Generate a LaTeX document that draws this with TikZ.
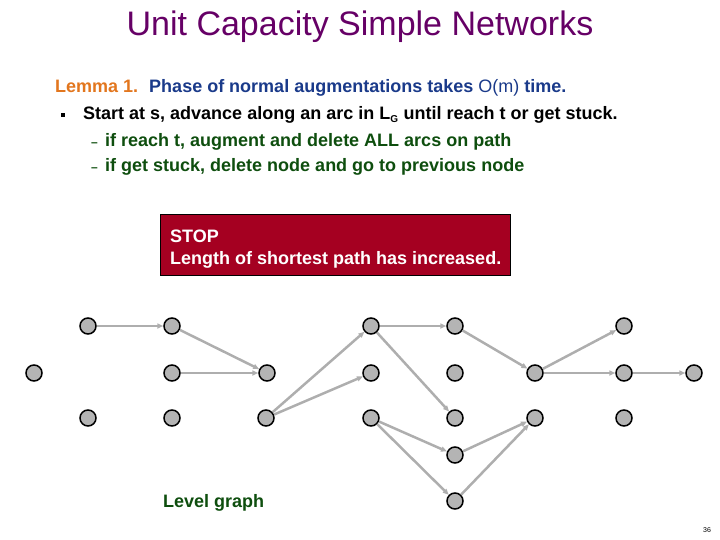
\documentclass[tikz,border=0pt]{standalone}
\usepackage{fontspec}
\setmainfont{Liberation Sans}
\usepackage{xcolor}
\usetikzlibrary{arrows.meta,positioning}

\definecolor{titlepurple}{HTML}{660066}
\definecolor{lemmaorange}{HTML}{E2761E}
\definecolor{lemmablue}{HTML}{1A3A8A}
\definecolor{subgreen}{HTML}{0E4E0E}
\definecolor{stopred}{HTML}{A50021}
\definecolor{vtxgray}{HTML}{B4B4B4}
\definecolor{arcgray}{HTML}{AEAEAE}

\begin{document}
\begin{tikzpicture}[
      x=1pt, y=-1pt,
      txt/.style={anchor=base west, inner sep=0pt, font=\fontsize{18}{21}\selectfont\bfseries},
      stopbox/.style={rectangle, draw=black, line width=1pt, fill=stopred,
                      text=white, align=left, inner sep=0pt,
                      minimum width=350pt, minimum height=60pt},
      vtx/.style={circle, draw=black, line width=1.5pt, fill=vtxgray,
                  minimum size=16pt, inner sep=0pt},
      arc/.style={-{Triangle[length=6pt,width=5pt]}, draw=arcgray, line width=2.5pt}
    ]
    \useasboundingbox (0,0) rectangle (720,540);
    % heading and text
    \node[font=\fontsize{34}{40}\selectfont, text=titlepurple] (title) at (360,27) {Unit Capacity Simple Networks};
    \node[txt] (lemma) at (55,93) {\textcolor{lemmaorange}{Lemma 1.}\hspace{11pt}\textcolor{lemmablue}{Phase of normal augmentations takes \textmd{O(m)} time.}};
    \node[anchor=center, inner sep=0pt] (dot) at (63,115) {\rule{4pt}{4pt}};
    \node[txt] (step1) at (83,120) {Start at s, advance along an arc in L\textsubscript{\fontsize{10}{10}\selectfont G} until reach t or get stuck.};
    \node[txt, text=subgreen] (sub1) at (91,147) {\makebox[14pt][l]{\fontsize{12}{12}\selectfont –}if reach t, augment and delete ALL arcs on path};
    \node[txt, text=subgreen] (sub2) at (91,172) {\makebox[14pt][l]{\fontsize{12}{12}\selectfont –}if get stuck, delete node and go to previous node};
    \node[stopbox] (stop) at (335,245) {};
    \node[txt, text=white] (stoptxt1) at (170,242) {STOP};
    \node[txt, text=white] (stoptxt2) at (170,264) {Length of shortest path has increased.};
    \node[txt, text=subgreen] (level) at (163,507) {Level graph};
    \node[anchor=center, inner sep=0pt, font=\fontsize{7}{7}\selectfont] (page) at (707,530) {36};

    % level graph
    \node[vtx] (s) at (34,373) {};
    \node[vtx] (a1) at (88,326) {};
    \node[vtx] (a3) at (88,418) {};
    \node[vtx] (b1) at (172,326) {};
    \node[vtx] (b2) at (172,373) {};
    \node[vtx] (b3) at (172,418) {};
    \node[vtx] (c2) at (267,373) {};
    \node[vtx] (c3) at (266,418) {};
    \node[vtx] (d1) at (371,326) {};
    \node[vtx] (d2) at (371,373) {};
    \node[vtx] (d3) at (371,418) {};
    \node[vtx] (e1) at (455,326) {};
    \node[vtx] (e2) at (455,373) {};
    \node[vtx] (e3) at (455,418) {};
    \node[vtx] (e4) at (455,455) {};
    \node[vtx] (e5) at (455,501) {};
    \node[vtx] (f2) at (535,373) {};
    \node[vtx] (f3) at (535,418) {};
    \node[vtx] (g1) at (624,326) {};
    \node[vtx] (g2) at (624,373) {};
    \node[vtx] (g3) at (624,418) {};
    \node[vtx] (t) at (694,373) {};

    \draw[arc] (a1) -- (b1);
    \draw[arc] (b1) -- (c2);
    \draw[arc] (b2) -- (c2);
    \draw[arc] (c3) -- (d1);
    \draw[arc] (c3) -- (d2);
    \draw[arc] (d1) -- (e1);
    \draw[arc] (d1) -- (e3);
    \draw[arc] (e1) -- (f2);
    \draw[arc] (d3) -- (e4);
    \draw[arc] (d3) -- (e5);
    \draw[arc] (e4) -- (f3);
    \draw[arc] (e5) -- (f3);
    \draw[arc] (f2) -- (g1);
    \draw[arc] (f2) -- (g2);
    \draw[arc] (g2) -- (t);
  \end{tikzpicture}
\end{document}
